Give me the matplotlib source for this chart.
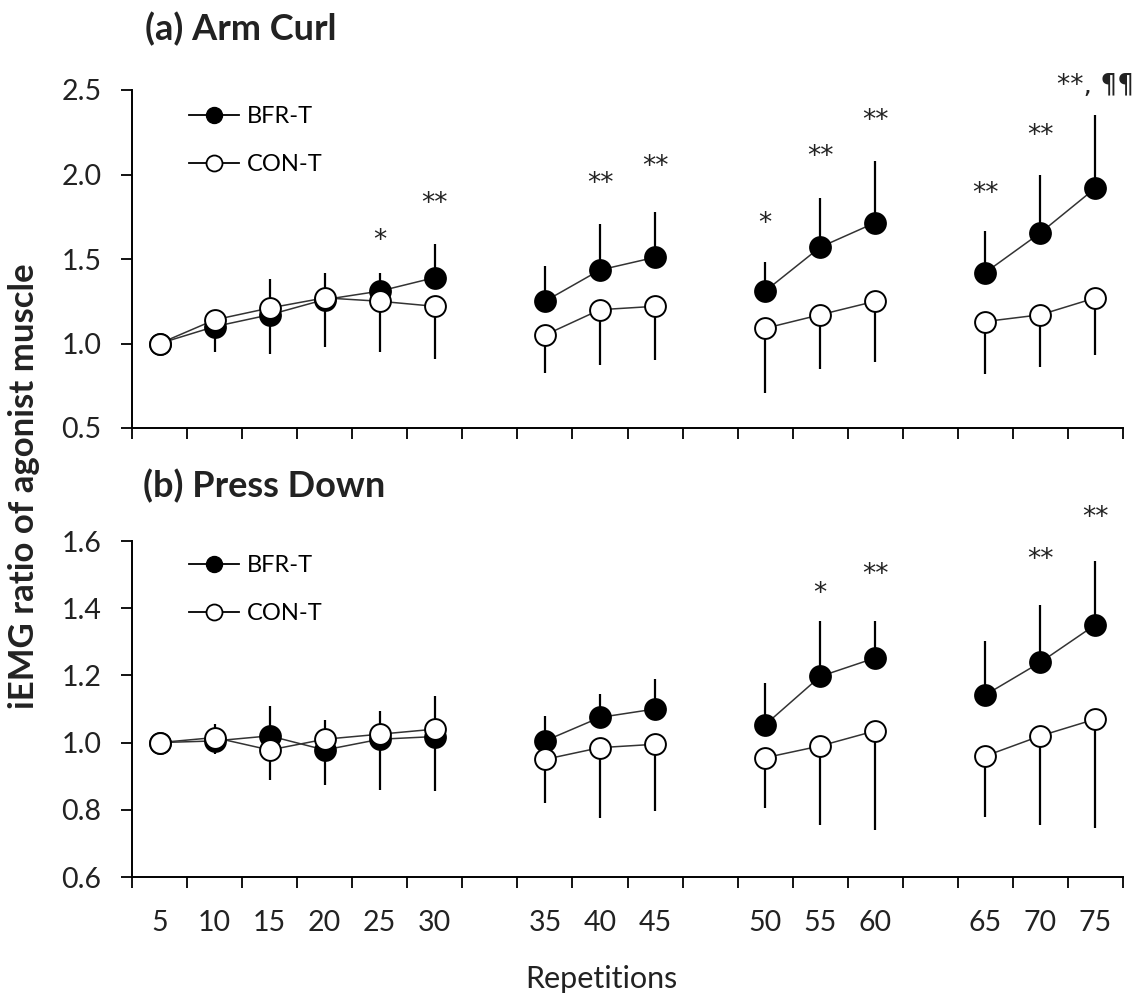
import matplotlib
matplotlib.use('Agg')
import matplotlib.pyplot as plt
import numpy as np

plt.rcParams['font.family'] = ['Lato', 'DejaVu Sans']

# Repetition blocks (gaps between blocks on the x axis)
blocks = [[5, 10, 15, 20, 25, 30], [35, 40, 45], [50, 55, 60], [65, 70, 75]]
reps = [r for b in blocks for r in b]

# (a) Arm Curl
arm_bfr = [1.00, 1.10, 1.17, 1.26, 1.31, 1.39, 1.25, 1.435, 1.51, 1.31, 1.57, 1.715, 1.42, 1.655, 1.92]
arm_bfr_sd = [0.0, 0.08, 0.21, 0.16, 0.11, 0.20, 0.21, 0.275, 0.27, 0.17, 0.29, 0.365, 0.245, 0.345, 0.43]
arm_con = [1.00, 1.14, 1.21, 1.27, 1.25, 1.22, 1.05, 1.20, 1.22, 1.09, 1.17, 1.25, 1.13, 1.17, 1.27]
arm_con_sd = [0.0, 0.19, 0.27, 0.29, 0.30, 0.31, 0.225, 0.33, 0.32, 0.38, 0.32, 0.36, 0.31, 0.31, 0.34]
arm_marks = [(25, '*', 1.63), (30, '**', 1.85), (40, '**', 1.97), (45, '**', 2.07),
             (50, '*', 1.73), (55, '**', 2.13), (60, '**', 2.34), (65, '**', 1.91),
             (70, '**', 2.25), (75, '**, ¶¶', 2.55)]

# (b) Press Down
press_bfr = [1.00, 1.005, 1.02, 0.978, 1.01, 1.018, 1.005, 1.075, 1.10, 1.053, 1.197, 1.252, 1.142, 1.239, 1.351]
press_bfr_sd = [0.0, 0.05, 0.09, 0.09, 0.085, 0.12, 0.075, 0.07, 0.09, 0.125, 0.165, 0.11, 0.16, 0.17, 0.19]
press_con = [1.00, 1.015, 0.978, 1.01, 1.025, 1.04, 0.95, 0.985, 0.995, 0.955, 0.99, 1.035, 0.96, 1.02, 1.07]
press_con_sd = [0.0, 0.05, 0.09, 0.135, 0.165, 0.185, 0.13, 0.21, 0.20, 0.15, 0.235, 0.295, 0.18, 0.265, 0.325]
press_marks = [(55, '*', 1.455), (60, '**', 1.51), (70, '**', 1.555), (75, '**', 1.68)]

# x positions: one slot per repetition, one empty slot between blocks
pos = {}
slot = 0
for b in blocks:
    for r in b:
        pos[r] = slot + 0.5
        slot += 1
    slot += 1
n_slots = slot - 1

fig = plt.figure(figsize=(11.46, 9.93), dpi=100)
ax_a = fig.add_axes([132 / 1146, 1 - 428 / 993, 991 / 1146, 338 / 993])
ax_b = fig.add_axes([132 / 1146, 1 - 877 / 993, 991 / 1146, 336 / 993])


def draw_panel(ax, bfr, bfr_sd, con, con_sd, marks, ylim, yticks, show_xlabels):
    x = np.array([pos[r] for r in reps])
    bfr = np.array(bfr)
    con = np.array(con)
    # error bars: BFR-T upward, CON-T downward
    ax.vlines(x, bfr, bfr + np.array(bfr_sd), color='black', lw=1.6, zorder=1)
    ax.vlines(x, con - np.array(con_sd), con, color='black', lw=1.6, zorder=1)
    i = 0
    for b in blocks:
        sl = slice(i, i + len(b))
        ax.plot(x[sl], bfr[sl], color='#333333', lw=1.1, zorder=2)
        ax.plot(x[sl], con[sl], color='#333333', lw=1.1, zorder=2)
        i += len(b)
    ax.plot(x, bfr, 'o', ms=15, mfc='black', mec='black', mew=1.4, ls='none', zorder=3)
    ax.plot(x, con, 'o', ms=15, mfc='white', mec='black', mew=1.4, ls='none', zorder=4)

    # legend handles
    ax.plot([], [], '-o', color='black', lw=1.3, ms=11.5, mfc='black', mec='black', label='BFR-T')
    ax.plot([], [], '-o', color='black', lw=1.3, ms=11.5, mfc='white', mec='black', mew=1.3, label='CON-T')

    for r, txt, y in marks:
        ax.annotate(txt, (pos[r], y), xytext=(0, -8), textcoords='offset points',
                    ha='center', va='baseline', fontsize=19, color='#222222',
                    family=['DejaVu Sans'], annotation_clip=False)

    ax.set_xlim(0, n_slots)
    ax.set_ylim(*ylim)
    ax.set_yticks(yticks)
    ax.set_yticklabels([f'{t:.1f}' for t in yticks])
    ax.set_xticks(range(0, n_slots + 1))
    ax.set_xticklabels([])
    ax.set_xticks([pos[r] for r in reps], minor=True)
    if show_xlabels:
        ax.set_xticklabels([str(r) for r in reps], minor=True)
    else:
        ax.set_xticklabels([], minor=True)
    ax.tick_params(axis='x', which='minor', length=0, pad=24, labelsize=20.5, colors='#222222')
    ax.tick_params(axis='both', which='major', direction='out', length=8, width=1.3,
                   color='black')
    ax.tick_params(axis='y', which='major', pad=14, labelsize=20.5, labelcolor='#222222')
    for s in ['top', 'right']:
        ax.spines[s].set_visible(False)
    for s in ['left', 'bottom']:
        ax.spines[s].set_linewidth(1.4)


draw_panel(ax_a, arm_bfr, arm_bfr_sd, arm_con, arm_con_sd, arm_marks,
           (0.5, 2.5), [0.5, 1.0, 1.5, 2.0, 2.5], False)
draw_panel(ax_b, press_bfr, press_bfr_sd, press_con, press_con_sd, press_marks,
           (0.6, 1.6), [0.6, 0.8, 1.0, 1.2, 1.4, 1.6], True)

for ax, top in [(ax_a, 0.953), (ax_b, 0.959)]:
    ax.legend(loc='upper left', bbox_to_anchor=(0.058, top), frameon=False,
              fontsize=17, handlelength=2.1, handletextpad=0.35, labelspacing=1.15,
              borderpad=0, borderaxespad=0)

fig.text(145 / 1146, 1 - 40 / 993, '(a) Arm Curl', fontsize=26, fontweight='bold',
         ha='left', va='baseline', color='#222222')
fig.text(143 / 1146, 1 - 497 / 993, '(b) Press Down', fontsize=26, fontweight='bold',
         ha='left', va='baseline', color='#222222')
fig.text(24 / 1146, 1 - 486 / 993, 'iEMG ratio of agonist muscle', fontsize=25,
         fontweight='bold', rotation=90, ha='center', va='center', color='#222222')
fig.text(601 / 1146, 1 - 988 / 993, 'Repetitions', fontsize=22, ha='center',
         va='baseline', color='#222222')

fig.savefig('out.png', dpi=100)
